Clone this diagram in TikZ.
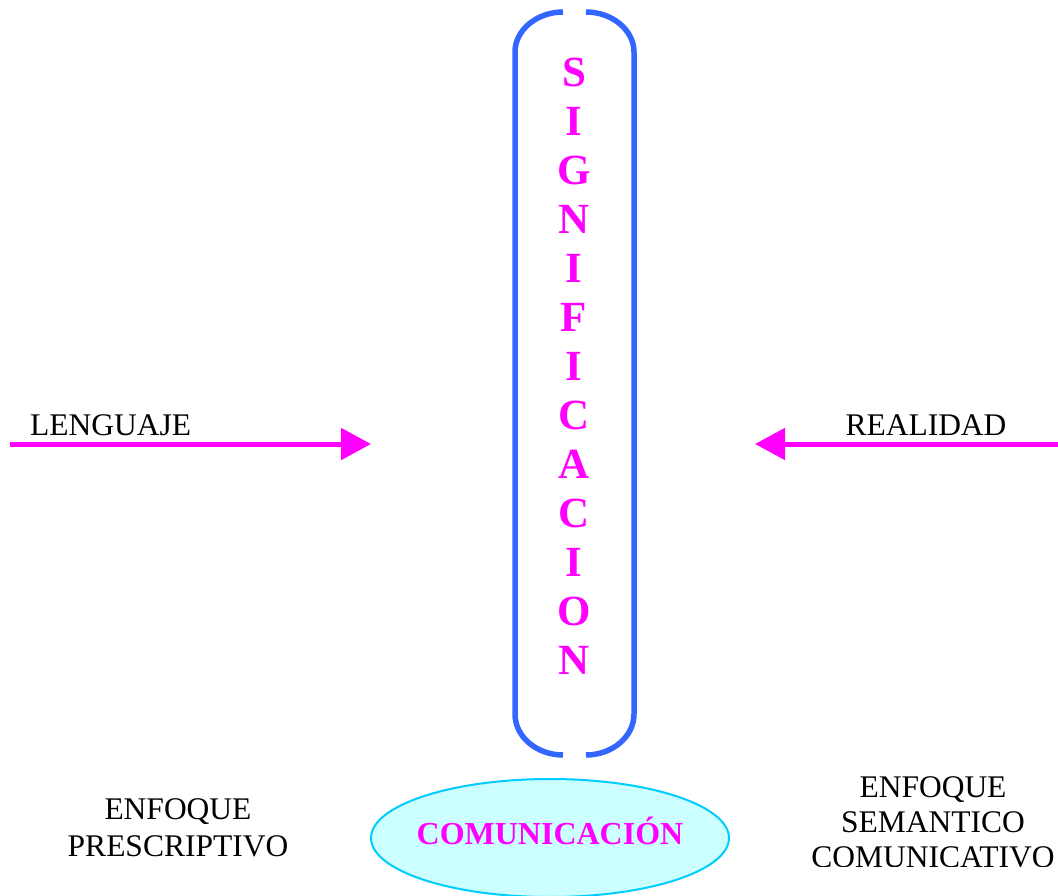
\documentclass[tikz,border=0pt]{standalone}
\usepackage{fontspec}
\setmainfont{Liberation Serif}
\usetikzlibrary{arrows.meta,shapes.geometric}
\definecolor{mag}{RGB}{255,0,255}
\definecolor{bracketblue}{RGB}{51,102,255}
\definecolor{ellfill}{RGB}{204,255,255}
\definecolor{elldraw}{RGB}{0,204,255}
\tikzset{
  plain/.style={font=\fontsize{31.5}{38}\selectfont, align=center, inner sep=0pt, text=black},
  letter/.style={font=\fontsize{43}{45}\selectfont\bfseries, text=mag, inner sep=0pt},
  magarrow/.style={draw=mag, line width=5pt, -{Triangle[length=30pt,width=31pt]}},
  brack/.style={draw=bracketblue, line width=5.5pt}
}
\begin{document}
\begin{tikzpicture}[x=1pt,y=-1pt]
\clip (0,0) rectangle (1058,896);
\useasboundingbox (0,0) rectangle (1058,896);
% bracket
\draw[brack] (563,12) .. controls (537,12) and (515,30) .. (515,52) -- (515,714)
   .. controls (515,737) and (537,755) .. (563,755);
\draw[brack] (586,12) .. controls (612,12) and (634,30) .. (634,52) -- (634,714)
   .. controls (634,737) and (612,755) .. (586,755);
% letters
\foreach \ch [count=\i] in {S,I,G,N,I,F,I,C,A,C,I,O,N}{
  \node[letter] (l\i) at (574,{72+(\i-1)*49}) {\ch};
}
% arrows
\coordinate (lstart) at (10,444);
\coordinate (lend) at (371,444);
\coordinate (rstart) at (1058,444);
\coordinate (rend) at (755,444);
\draw[magarrow] (lstart) -- (lend);
\draw[magarrow] (rstart) -- (rend);
\node[plain, anchor=base west] (leng) at (30,435) {LENGUAJE};
\node[plain, anchor=base] (real) at (926,435) {REALIDAD};
% ellipse
\node[draw=elldraw, fill=ellfill, line width=2pt, ellipse, minimum width=358pt, minimum height=118pt, inner sep=0pt] (ell) at (550,838) {};
\node[font=\fontsize{32}{34}\selectfont\bfseries, text=mag, anchor=base] (com) at (550,844) {COMUNICACIÓN};
% enfoque texts
\node[plain, anchor=base] (ep1) at (178,819) {ENFOQUE};
\node[plain, anchor=base] (ep2) at (178,856) {PRESCRIPTIVO};
\begin{scope}
\clip (780,700) rectangle (1058,866);
\node[plain, anchor=base] (es1) at (933,797) {ENFOQUE};
\node[plain, anchor=base] (es2) at (933,832) {SEMANTICO};
\node[plain, anchor=base] (es3) at (933,867) {COMUNICATIVO};
\end{scope}
\end{tikzpicture}
\end{document}
